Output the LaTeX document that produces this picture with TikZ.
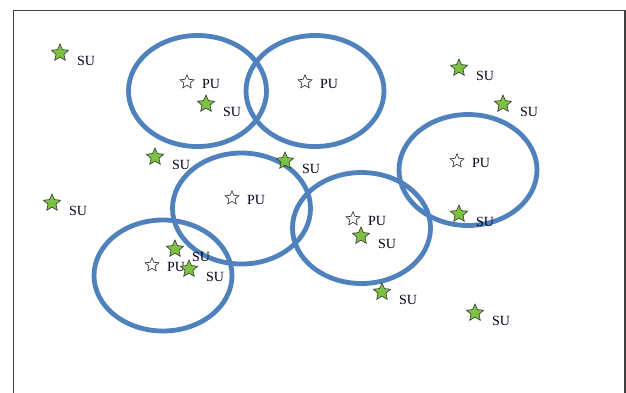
\documentclass[tikz,border=0pt]{standalone}
\usepackage{fontspec}
\setmainfont{Liberation Serif}
\usetikzlibrary{shapes.geometric}
\definecolor{rangeblue}{HTML}{4F81BD}
\definecolor{sugreen}{HTML}{7CC242}
\tikzset{
  purange/.style={draw=rangeblue, line width=4.8pt},
  sustar/.style={star, star points=5, star point ratio=2.15, minimum size=18pt,
    inner sep=0pt, fill=sugreen, draw=black!80, line width=0.6pt},
  pustar/.style={star, star points=5, star point ratio=2.2, minimum size=14.5pt,
    inner sep=0pt, fill=white, draw=black!85, line width=0.6pt},
  lbl/.style={anchor=base west, inner sep=0pt, font=\fontsize{14}{16}\selectfont, text=black!90!blue},
}
\newcommand{\su}[3]{%
  \node[sustar] (#1) at (#2,#3) {};
  \node[lbl] (#1l) at ([shift={(17,12.5)}]#1.center) {SU};}
\newcommand{\pu}[3]{%
  \node[pustar] (#1) at (#2,#3) {};
  \node[lbl] (#1l) at ([shift={(15,6)}]#1.center) {PU};}
\begin{document}
\begin{tikzpicture}[x=1pt,y=-1pt]
\useasboundingbox (0,0) rectangle (626,392);
\fill[white] (0,0) rectangle (626,392);
% frame
\draw[black!75, line width=1.2pt] (13.5,400) -- (13.5,10.5) -- (625,10.5) -- (625,400);
% coverage ranges of the primary users
\draw[purange] (197.5,91) ellipse [x radius=69, y radius=55.5];
\draw[purange] (315,91) ellipse [x radius=69, y radius=55.5];
\draw[purange] (468,170) ellipse [x radius=69, y radius=55.5];
\draw[purange] (241.5,208.5) ellipse [x radius=69, y radius=55.5];
\draw[purange] (361.5,228) ellipse [x radius=69, y radius=55.5];
\draw[purange] (163,275.5) ellipse [x radius=69, y radius=55.5];
% primary users
\pu{p1}{187}{82}
\pu{p2}{305}{82}
\pu{p3}{457}{161}
\pu{p4}{232}{198}
\pu{p5}{353}{219}
\pu{p6}{152}{265}
% secondary users
\su{s1}{60}{53}
\su{s2}{206}{104}
\su{s3}{155}{157}
\su{s4}{285}{161}
\su{s5}{459}{68}
\su{s6}{503}{104}
\su{s7}{52}{203}
\su{s8}{175}{249}
\su{s9}{189}{269}
\su{s10}{361}{236}
\su{s11}{459}{214}
\su{s12}{382}{292}
\su{s13}{475}{313}
\end{tikzpicture}
\end{document}
